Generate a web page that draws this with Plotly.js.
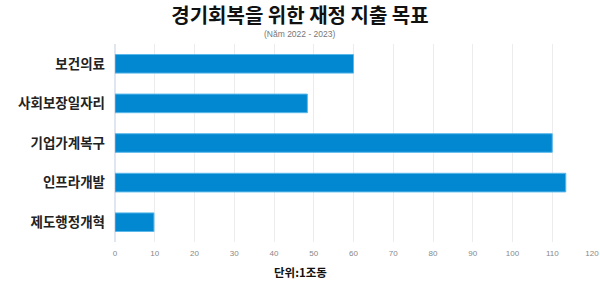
<!DOCTYPE html>
<html>
<head>
<meta charset="utf-8">
<script src="https://cdn.plot.ly/plotly-3.0.1.min.js"></script>
<style>
html,body{margin:0;padding:0;background:#ffffff;}
#chart{width:600px;height:284px;}
</style>
</head>
<body>
<div id="chart"></div>
<script>
const categories = ["보건의료", "사회보장일자리", "기업가계복구", "인프라개발", "제도행정개혁"];
const values = [60, 48.4, 110, 113.4, 9.8];
const tickValues = [0, 10, 20, 30, 40, 50, 60, 70, 80, 90, 100, 110, 120];
const titleText = "경기회복을 위한 재정 지출 목표";
const subtitleText = "(Năm 2022 - 2023)";
const xTitleText = "단위:1조동";

const trace = {
  type: "bar",
  orientation: "h",
  y: categories,
  x: values,
  marker: {color: "#0288d1", line: {color: "#5ab8ea", width: 1}},
  hoverinfo: "none"
};

const ml = 115, mr = 8;
const plotW = 600 - ml - mr;
const centerPaper = (300 - ml) / plotW;

const layout = {
  width: 600,
  height: 284,
  paper_bgcolor: "#ffffff",
  plot_bgcolor: "#ffffff",
  margin: {l: ml, r: mr, t: 44, b: 42},
  bargap: 0.53,
  showlegend: false,
  title: {
    text: titleText,
    x: 0.5, xanchor: "center",
    y: 0.943, yanchor: "middle",
    font: {family: "Noto Sans CJK KR", size: 20, color: "#111111", weight: 700}
  },
  annotations: [{
    text: subtitleText,
    xref: "paper", yref: "paper",
    x: centerPaper, y: 1, xanchor: "center", yanchor: "bottom",
    yshift: 3,
    showarrow: false,
    font: {family: "Liberation Sans Narrow, Liberation Sans", size: 8.5, color: "#777777"}
  }, {
    text: xTitleText,
    xref: "paper", yref: "paper",
    x: centerPaper, y: 0, xanchor: "center", yanchor: "top",
    yshift: -20,
    showarrow: false,
    font: {family: "Noto Sans CJK KR", size: 11.5, color: "#111111", weight: 700}
  }],
  xaxis: {
    range: [0, 120],
    tickvals: tickValues,
    ticktext: tickValues.map(String),
    tickfont: {family: "Liberation Sans Narrow, Liberation Sans", size: 8, color: "#888888"},
    ticklabelstandoff: 5,
    showgrid: true,
    gridcolor: "#ececec",
    gridwidth: 1,
    zeroline: true,
    zerolinecolor: "#dfe6f0",
    zerolinewidth: 2,
    showline: false,
    ticks: "",
    fixedrange: true
  },
  yaxis: {
    autorange: "reversed",
    tickfont: {family: "Noto Sans CJK KR", size: 13.5, color: "#222222", weight: 700},
    ticks: "",
    ticklabelstandoff: 9,
    showgrid: false,
    showline: false,
    fixedrange: true
  }
};

Plotly.newPlot("chart", [trace], layout, {displayModeBar: false, staticPlot: true});
</script>
</body>
</html>
